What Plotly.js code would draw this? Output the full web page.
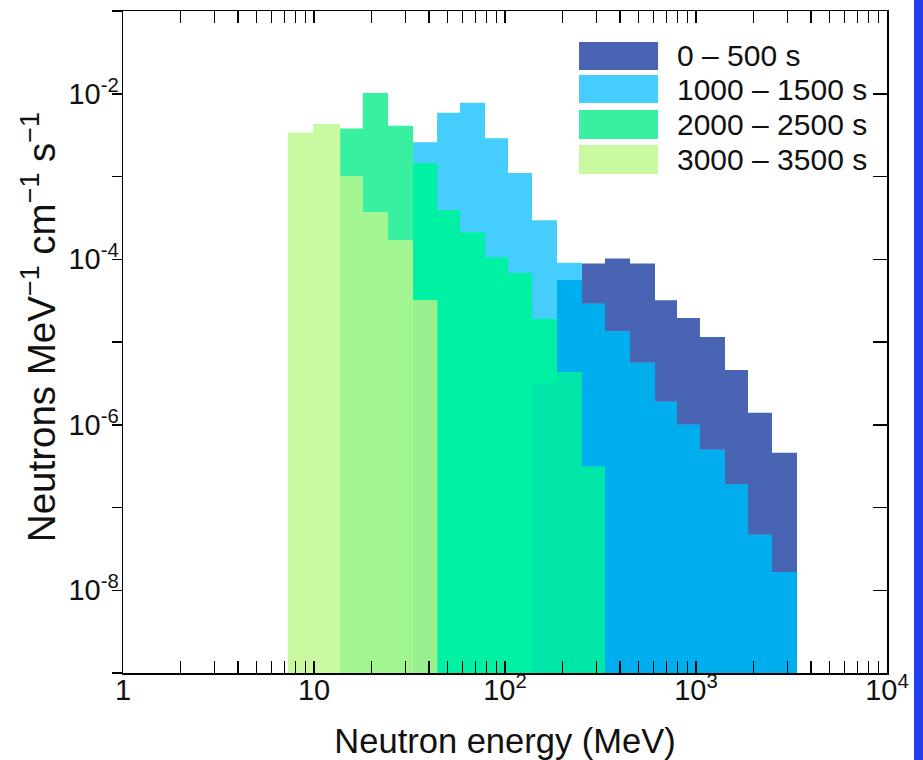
<!DOCTYPE html>
<html>
<head>
<meta charset="utf-8">
<script src="https://cdn.plot.ly/plotly-3.0.1.min.js"></script>
<style>
  html, body { margin: 0; padding: 0; background: #ffffff; }
  #chart { width: 923px; height: 760px; }
  #edge { position: absolute; left: 914px; top: 0; width: 9px; height: 760px; background: #1f3ff0; }
</style>
</head>
<body>
<div id="chart"></div>
<div id="edge"></div>
<script>
// Bin edges (MeV)
const binEdges = [7.3, 9.9, 13.7, 18.0, 24.4, 33.0, 44.1, 58.1, 78.6, 103.7, 138.5, 187.2, 253.0, 333.9, 451.3, 610.1, 795.3, 1049, 1418, 1872, 2500, 3380];

// Series labels
const seriesNames = ['0 \u2013 500 s', '1000 \u2013 1500 s', '2000 \u2013 2500 s', '3000 \u2013 3500 s'];

// Neutrons MeV^-1 cm^-1 s^-1 per bin (null = no entry)
const flux0to500 = [null, null, null, null, null, null, null, null, null, null,
  3.2e-6, 5.6e-5, 8.9e-5, 1.02e-4, 8.9e-5, 3.2e-5, 1.95e-5, 1.15e-5, 4.6e-6, 1.4e-6, 4.6e-7];
const flux1000to1500 = [null, null, null, null, null,
  2.6e-3, 5.9e-3, 7.8e-3, 2.9e-3, 1.1e-3, 2.95e-4, 9.1e-5, 2.9e-5, 1.35e-5, 5.6e-6, 1.9e-6, 1.0e-6, 5.0e-7, 1.9e-7, 4.7e-8, 1.66e-8];
const flux2000to2500 = [null, null,
  3.8e-3, 1.02e-2, 4.1e-3, 1.45e-3, 3.9e-4, 2.1e-4, 1.05e-4, 6.8e-5, 1.9e-5, 4.3e-6, 3.1e-7,
  null, null, null, null, null, null, null, null];
const flux3000to3500 = [3.4e-3, 4.3e-3, 1.0e-3, 3.7e-4, 1.7e-4, 3.2e-5,
  null, null, null, null, null, null, null, null, null, null, null, null, null, null, null];

// Axis tick labels
const xTickVals = [1, 10, 100, 1000, 10000];
const xTickText = ['1', '10', '10<sup>2</sup>', '10<sup>3</sup>', '10<sup>4</sup>'];
const yTickVals = [1e-8, 1e-6, 1e-4, 1e-2];
const yTickText = ['10<sup>-8</sup>', '10<sup>-6</sup>', '10<sup>-4</sup>', '10<sup>-2</sup>'];
const yOddDecades = [1e-9, 1e-7, 1e-5, 1e-3, 1e-1];
const yAllDecades = [1e-9, 1e-8, 1e-7, 1e-6, 1e-5, 1e-4, 1e-3, 1e-2, 1e-1];
const xTitle = 'Neutron energy (MeV)';
const yTitle = 'Neutrons MeV<sup>\u22121</sup> cm<sup>\u22121</sup> s<sup>\u22121</sup>';

// Colours
const colS0 = '#4a64b4', colS1 = '#44cdfd', colS2 = '#38f0a0', colS3 = '#c9f9a1';
const colS01 = '#00aeee', colS12 = '#00f1a4', colS012 = '#00e6a9', colS23 = '#a1f691', colS123 = '#98f08f';

const BASE = 1e-12;
function minOf(...arrs) {
  return arrs[0].map((_, i) => {
    let m = Infinity;
    for (const a of arrs) { if (a[i] === null) return null; m = Math.min(m, a[i]); }
    return m;
  });
}
function stepTrace(vals, color, name) {
  const xs = [], ys = [];
  let i = 0;
  while (i < vals.length) {
    if (vals[i] === null) { i++; continue; }
    let j = i;
    while (j + 1 < vals.length && vals[j + 1] !== null) j++;
    if (xs.length) { xs.push(null); ys.push(null); }
    xs.push(binEdges[i]); ys.push(BASE);
    for (let k = i; k <= j; k++) { xs.push(binEdges[k], binEdges[k + 1]); ys.push(vals[k], vals[k]); }
    xs.push(binEdges[j + 1]); ys.push(BASE);
    i = j + 1;
  }
  return { type: 'scatter', mode: 'lines', x: xs, y: ys, fill: 'toself', fillcolor: color,
           line: { width: 0, color: color }, hoverinfo: 'skip', showlegend: false, name: name };
}

const traces = [
  stepTrace(flux0to500, colS0, seriesNames[0]),
  stepTrace(flux1000to1500, colS1, seriesNames[1]),
  stepTrace(minOf(flux0to500, flux1000to1500), colS01, 'overlap'),
  stepTrace(flux2000to2500, colS2, seriesNames[2]),
  stepTrace(minOf(flux1000to1500, flux2000to2500), colS12, 'overlap'),
  stepTrace(minOf(flux0to500, flux1000to1500, flux2000to2500), colS012, 'overlap'),
  stepTrace(flux3000to3500, colS3, seriesNames[3]),
  stepTrace(minOf(flux2000to2500, flux3000to3500), colS23, 'overlap'),
  stepTrace(minOf(flux1000to1500, flux2000to2500, flux3000to3500), colS123, 'overlap'),
  { type: 'scatter', x: [], y: [], yaxis: 'y2', showlegend: false, hoverinfo: 'skip' }
];

const xMinor = [];
for (let d = 1; d < 10000; d *= 10) for (let m = 2; m <= 9; m++) xMinor.push(m * d);

// Legend drawn as swatches + text
const legendColors = [colS0, colS1, colS2, colS3];
const legY = [[0.9109, 0.9532], [0.8610, 0.9033], [0.8066, 0.8505], [0.7538, 0.7976]];
const shapes = legendColors.map((c, i) => ({
  type: 'rect', xref: 'paper', yref: 'paper', x0: 0.5969, x1: 0.7003, y0: legY[i][0], y1: legY[i][1],
  fillcolor: c, line: { width: 0 }, layer: 'above'
}));
const font = 'Liberation Sans, Arial, Helvetica, sans-serif';
const annotations = seriesNames.map((t, i) => ({
  xref: 'paper', yref: 'paper', x: 0.7225, y: (legY[i][0] + legY[i][1]) / 2,
  xanchor: 'left', yanchor: 'middle', showarrow: false, text: t,
  font: { size: 30, family: font, color: '#111' }
}));
annotations.push({
  xref: 'paper', yref: 'paper', x: -0.109, y: 0.522, xanchor: 'center', yanchor: 'middle',
  textangle: -90, showarrow: false, text: yTitle, font: { size: 38.5, family: font, color: '#111' }
});

const layout = {
  width: 923, height: 760,
  margin: { l: 123, r: 36, t: 11, b: 87 },
  paper_bgcolor: '#ffffff', plot_bgcolor: '#ffffff',
  font: { family: font, color: '#111', size: 29 },
  showlegend: false,
  xaxis: {
    type: 'log', range: [0, 4], tickmode: 'array', tickvals: xTickVals, ticktext: xTickText,
    ticks: 'inside', ticklen: 12, tickwidth: 1.5, tickcolor: '#000', ticklabelstandoff: -9,
    showline: true, linecolor: '#000', linewidth: 1.5, mirror: 'allticks',
    showgrid: false, zeroline: false,
    tickfont: { size: 29, family: font, color: '#111' },
    minor: { tickmode: 'array', tickvals: xMinor, ticks: 'inside', ticklen: 7, tickwidth: 1.2, tickcolor: '#000', showgrid: false },
    title: { text: xTitle, font: { size: 34.5, family: font, color: '#111' }, standoff: 24 }
  },
  yaxis: {
    type: 'log', range: [-9, -1], tickmode: 'array', tickvals: yTickVals, ticktext: yTickText,
    ticks: 'outside', ticklen: 10, tickwidth: 1.5, tickcolor: '#000', ticklabelstandoff: -13,
    showline: true, linecolor: '#000', linewidth: 1.5, mirror: true,
    showgrid: false, zeroline: false,
    tickfont: { size: 29, family: font, color: '#111' },
    minor: { tickmode: 'array', tickvals: yOddDecades, ticks: 'outside', ticklen: 10, tickwidth: 1.5, tickcolor: '#000', showgrid: false }
  },
  yaxis2: {
    type: 'log', range: [-9, -1], overlaying: 'y', side: 'right', anchor: 'x',
    tickmode: 'array', tickvals: yAllDecades, ticks: 'inside', ticklen: 14, tickwidth: 1.5, tickcolor: '#000',
    showticklabels: false, showline: false, showgrid: false, zeroline: false
  },
  shapes: shapes,
  annotations: annotations
};

Plotly.newPlot('chart', traces, layout, { staticPlot: true, displayModeBar: false });
</script>
</body>
</html>
